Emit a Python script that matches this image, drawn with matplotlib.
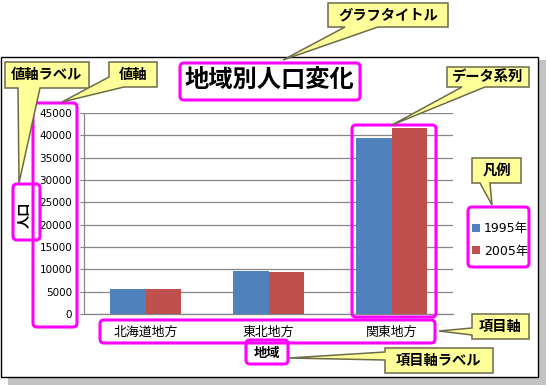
import matplotlib
matplotlib.use("Agg")
import matplotlib.pyplot as plt
from matplotlib.patches import Rectangle, FancyBboxPatch, Polygon
import numpy as np

plt.rcParams['font.family'] = ['Noto Sans CJK JP', 'DejaVu Sans']

# ---- data ----
categories = ['北海道地方', '東北地方', '関東地方']
series_names = ['1995年', '2005年']
values_1995 = [5650, 9700, 39500]
values_2005 = [5620, 9450, 41600]
yticks = [0, 5000, 10000, 15000, 20000, 25000, 30000, 35000, 40000, 45000]
title_text = '地域別人口変化'
ylabel_text = '人口'
xlabel_text = '地域'
callout_texts = ['グラフタイトル', '値軸ラベル', '値軸', 'データ系列', '凡例', '項目軸', '項目軸ラベル']

W, H = 547, 386
fig = plt.figure(figsize=(W / 100, H / 100), dpi=100)
fig.patch.set_facecolor('white')

def fx(px):
    return px / W

def fy(py):
    return 1 - py / H

# background axes (frame + shadow)
bg = fig.add_axes([0, 0, 1, 1], zorder=0)
bg.set_xlim(0, W); bg.set_ylim(H, 0); bg.axis('off')
bg.add_patch(Rectangle((8, 60), 538, 325, facecolor='#c3c3c3', edgecolor='none'))
bg.add_patch(Rectangle((1, 57), 537, 320, facecolor='white', edgecolor='black', lw=1))

# chart axes
ax = fig.add_axes([fx(84), fy(314), fx(453) - fx(84), fy(113) - fy(314)], zorder=1)
x = np.arange(len(categories))
bw = 0.288
b1 = ax.bar(x - bw / 2, values_1995, bw, color='#4F81BD', label=series_names[0], zorder=3)
b2 = ax.bar(x + bw / 2, values_2005, bw, color='#C0504D', label=series_names[1], zorder=3)
ax.set_xlim(-0.5, 2.5)
ax.set_ylim(0, 45000)
ax.set_yticks(yticks)
ax.set_yticklabels([str(v) for v in yticks], family=['DejaVu Sans', 'Noto Sans CJK JP'], fontsize=7.5)
ax.set_xticks(x)
ax.set_xticklabels(categories, fontsize=9.3)
ax.grid(axis='y', color='#868686', lw=0.9, zorder=0)
for s in ['top', 'right']:
    ax.spines[s].set_visible(False)
for s in ['left', 'bottom']:
    ax.spines[s].set_color('#868686')
    ax.spines[s].set_linewidth(0.9)
ax.tick_params(axis='y', length=3, color='#868686', pad=5.5)
ax.tick_params(axis='x', length=0, pad=8.5)
ax.patch.set_alpha(0)

leg = ax.legend(loc='center left', bbox_to_anchor=(fx(472), fy(240)), bbox_transform=fig.transFigure,
                frameon=False, handlelength=0.6, handleheight=0.6, handletextpad=0.35,
                borderpad=0, borderaxespad=0, labelspacing=0.75,
                prop={'family': ['DejaVu Sans', 'Noto Sans CJK JP'], 'size': 9})

# overlay axes
ov = fig.add_axes([0, 0, 1, 1], zorder=2)
ov.set_xlim(0, W); ov.set_ylim(H, 0); ov.axis('off')
ov.patch.set_alpha(0)

ov.text(269, 80, title_text, fontsize=17.5, fontweight='bold', ha='center', va='center')
ov.text(25, 215, ylabel_text, fontsize=9.5, fontweight='bold', ha='center', va='center', rotation=90)
ov.text(267, 353, xlabel_text, fontsize=9.5, fontweight='bold', ha='center', va='center')

MAG = '#FF00FF'
def mbox(x0, y0, x1, y1):
    ov.add_patch(FancyBboxPatch((x0, y0), x1 - x0, y1 - y0,
                                boxstyle='round,pad=0,rounding_size=4',
                                facecolor='none', edgecolor=MAG, lw=2.2))

mbox(180, 63, 360, 100)      # title
mbox(33, 103, 77, 327)       # value axis
mbox(13, 184, 40, 240)       # value axis label
mbox(352, 125, 436, 317)     # data series
mbox(468, 207, 529, 267)     # legend
mbox(100, 320, 435, 343)     # category axis
mbox(246, 340, 288, 364)     # category axis label

def callout(rect, pts, text):
    x0, y0, x1, y1 = rect
    ov.add_patch(Polygon(pts, closed=True, facecolor='#FFFF99', edgecolor='#6b6b4a', lw=1.1, zorder=5))
    ov.text((x0 + x1) / 2, (y0 + y1) / 2, text, fontsize=10.3, fontweight='bold',
            ha='center', va='center', zorder=6)

# グラフタイトル
r = (328, 3, 448, 27)
callout(r, [(328, 3), (448, 3), (448, 27), (378, 27), (283, 60), (345, 27), (328, 27)], callout_texts[0])
# 値軸ラベル
r = (5, 62, 89, 88)
callout(r, [(5, 62), (89, 62), (89, 88), (40, 88), (19, 183), (18, 88), (5, 88)], callout_texts[1])
# 値軸
r = (109, 62, 157, 87)
callout(r, [(109, 62), (157, 62), (157, 87), (124, 87), (62, 102), (109, 77)], callout_texts[2])
# データ系列
r = (447, 67, 529, 87)
callout(r, [(447, 67), (529, 67), (529, 87), (485, 87), (392, 125), (462, 87), (447, 87)], callout_texts[3])
# 凡例
r = (472, 158, 521, 183)
callout(r, [(472, 158), (521, 158), (521, 183), (490, 183), (492, 205), (480, 183), (472, 183)], callout_texts[4])
# 項目軸
r = (472, 314, 529, 339)
callout(r, [(472, 314), (529, 314), (529, 339), (472, 339), (472, 335), (439, 331), (472, 328)], callout_texts[5])
# 項目軸ラベル
r = (385, 348, 493, 373)
callout(r, [(385, 348), (493, 348), (493, 373), (385, 373), (385, 360), (289, 358), (385, 352)], callout_texts[6])

fig.savefig('out.png', dpi=100)
